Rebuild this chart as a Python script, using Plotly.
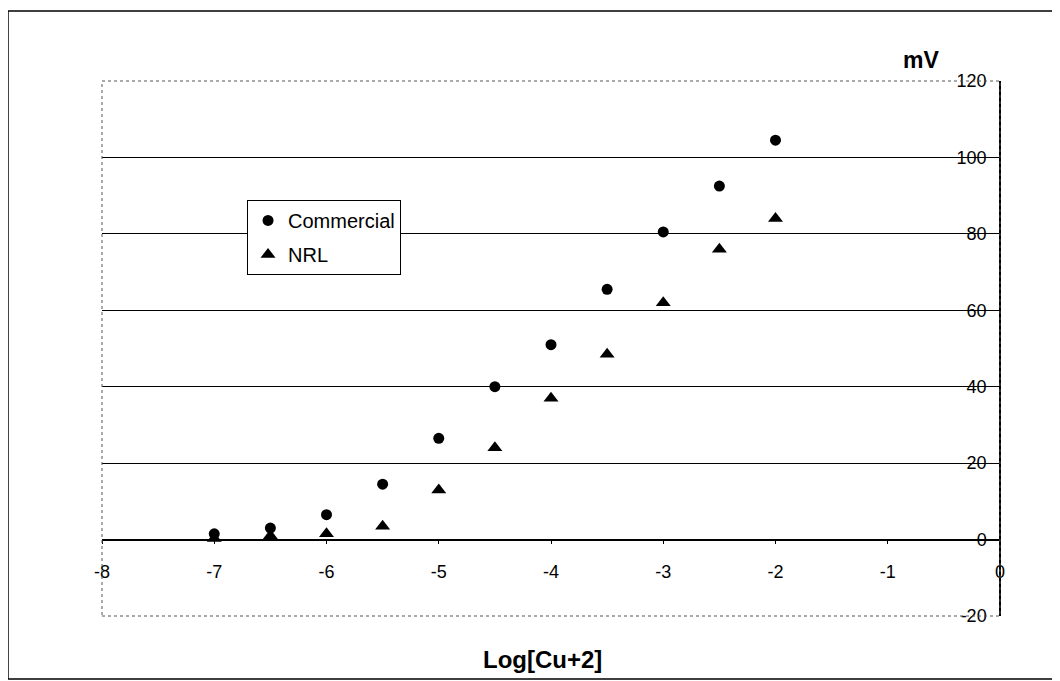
import plotly.graph_objects as go

log_cu = [-7, -6.5, -6, -5.5, -5, -4.5, -4, -3.5, -3, -2.5, -2]
commercial = [1.5, 3, 6.5, 14.5, 26.5, 40, 51, 65.5, 80.5, 92.5, 104.5]
nrl = [0.3, 1, 1.5, 3.5, 13, 24, 37, 48.5, 62, 76, 84]
x_ticks = [-8, -7, -6, -5, -4, -3, -2, -1, 0]
x_tick_text = ["-8", "-7", "-6", "-5", "-4", "-3", "-2", "-1", "0"]
y_ticks = [-20, 0, 20, 40, 60, 80, 100, 120]
y_tick_text = ["-20", "0", "20", "40", "60", "80", "100", "120"]

FONT = "Liberation Sans, Arial, sans-serif"

fig = go.Figure()
fig.add_trace(go.Scatter(x=log_cu, y=commercial, mode="markers", name="Commercial",
                         legendgroup="a",
                         marker=dict(symbol="circle", size=11, color="black")))
fig.add_trace(go.Scatter(x=log_cu, y=nrl, mode="markers", name="NRL",
                         legendgroup="b",
                         marker=dict(symbol="triangle-up", size=13, color="black")))

fig.update_layout(
    width=1052, height=673,
    margin=dict(l=94, r=60, t=73, b=65),
    paper_bgcolor="white", plot_bgcolor="white",
    font=dict(family=FONT, size=18, color="black"),
    showlegend=True,
    legend=dict(x=0.1615, y=0.7776, xanchor="left", yanchor="top",
                bgcolor="white", bordercolor="black", borderwidth=1,
                font=dict(size=20), itemwidth=30, tracegroupgap=5),
    xaxis=dict(range=[-8, 0], tickvals=x_ticks, ticktext=x_tick_text,
               anchor="free", position=20/140, automargin=False,
               showline=True, linecolor="black", linewidth=1.5,
               ticks="outside", ticklen=4, tickcolor="black",
               ticklabelstandoff=12,
               showgrid=False, zeroline=False, tickfont=dict(size=18)),
    yaxis=dict(range=[-20, 120], tickvals=y_ticks, ticktext=y_tick_text,
               side="left", anchor="free", position=1, automargin=False,
               showline=True, linecolor="black", linewidth=1.5,
               ticks="", ticklabelstandoff=9,
               showgrid=True, gridcolor="black", gridwidth=1.3,
               zeroline=False, tickfont=dict(size=18)),
    shapes=[
        dict(type="rect", xref="paper", yref="paper", x0=0, x1=1, y0=0, y1=1,
             line=dict(color="#555", width=1, dash="dot"), layer="above"),
        dict(type="rect", xref="paper", yref="paper", x0=-0.1047, x1=1.08,
             y0=-0.1178, y1=1.1308, line=dict(color="black", width=1.5)),
    ],
    annotations=[
        dict(text="<b>mV</b>", xref="paper", yref="paper", x=0.912, y=1.0393,
             xanchor="center", yanchor="middle", showarrow=False,
             font=dict(size=23)),
        dict(text="<b>Log[Cu+2]</b>", xref="paper", yref="paper", x=0.49,
             y=-0.0804, xanchor="center", yanchor="middle", showarrow=False,
             font=dict(size=24)),
    ],
)

fig.write_html("out.html")
